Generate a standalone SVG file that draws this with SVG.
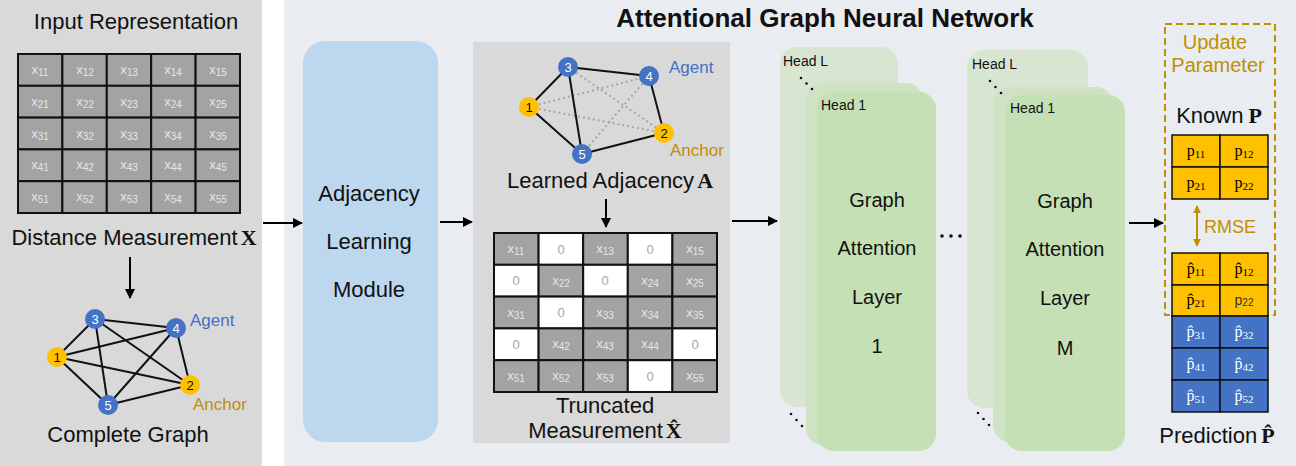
<svg xmlns="http://www.w3.org/2000/svg" width="1296" height="466" viewBox="0 0 1296 466">
  <defs>
    <marker id="arr" viewBox="0 0 10 10" refX="9" refY="5" markerWidth="5" markerHeight="5" orient="auto" markerUnits="strokeWidth">
      <path d="M0,0 L10,5 L0,10 z" fill="#000"/>
    </marker>
    <marker id="garr" viewBox="0 0 10 10" refX="9" refY="5" markerWidth="4" markerHeight="4" orient="auto-start-reverse" markerUnits="strokeWidth">
      <path d="M0,0 L10,5 L0,10 z" fill="#bf9000"/>
    </marker>
    <style>
      text { font-family: "Liberation Sans", Arial, sans-serif; }
      .lbl { font-size: 22px; fill: #111; }
      .serifb { font-family: "Liberation Serif", "DejaVu Serif", serif; font-weight: bold; }
      .cell { fill: #a3a3a3; stroke: #111; stroke-width: 2; }
      .zero { fill: #fff; stroke: #111; stroke-width: 2; }
      .ct { font-size: 13px; fill: #e6e6e6; text-anchor: middle; }
      .zt { font-size: 13px; fill: #a6a6a6; text-anchor: middle; }
      .edge { stroke: #111; stroke-width: 2; }
      .dot { stroke: #a6a6a6; stroke-width: 2; stroke-dasharray: 2 3; }
      .agent { fill: #4472c4; }
      .anchor { fill: #ffc000; }
      .nt { font-size: 13px; text-anchor: middle; }
      .head { font-size: 14px; fill: #111; }
      .gat { font-size: 20px; fill: #111; text-anchor: middle; }
      .pc { fill: #ffc000; stroke: #111; stroke-width: 1.5; }
      .pb { fill: #4472c4; stroke: #111; stroke-width: 1.5; }
      .pt { font-family: "Liberation Serif", "DejaVu Serif", serif; font-size: 16px; text-anchor: middle; }
      .conn { stroke: #000; stroke-width: 2; fill: none; marker-end: url(#arr); }
    </style>
  </defs>

  <!-- backgrounds -->
  <rect x="0" y="0" width="262" height="466" fill="#d9d9d9"/>
  <rect x="262" y="0" width="22" height="466" fill="#ffffff"/>
  <rect x="284" y="0" width="1012" height="466" fill="#e9ecf1"/>

  <!-- input representation panel -->
  <g id="input-matrix">
    <text class="lbl" x="136" y="29" text-anchor="middle" font-size="24">Input Representation</text>
    <g>
      <rect class="cell" x="18" y="54" width="44.4" height="31.8"/><rect class="cell" x="62.4" y="54" width="44.4" height="31.8"/><rect class="cell" x="106.8" y="54" width="44.4" height="31.8"/><rect class="cell" x="151.2" y="54" width="44.4" height="31.8"/><rect class="cell" x="195.6" y="54" width="44.4" height="31.8"/>
      <rect class="cell" x="18" y="85.8" width="44.4" height="31.8"/><rect class="cell" x="62.4" y="85.8" width="44.4" height="31.8"/><rect class="cell" x="106.8" y="85.8" width="44.4" height="31.8"/><rect class="cell" x="151.2" y="85.8" width="44.4" height="31.8"/><rect class="cell" x="195.6" y="85.8" width="44.4" height="31.8"/>
      <rect class="cell" x="18" y="117.6" width="44.4" height="31.8"/><rect class="cell" x="62.4" y="117.6" width="44.4" height="31.8"/><rect class="cell" x="106.8" y="117.6" width="44.4" height="31.8"/><rect class="cell" x="151.2" y="117.6" width="44.4" height="31.8"/><rect class="cell" x="195.6" y="117.6" width="44.4" height="31.8"/>
      <rect class="cell" x="18" y="149.4" width="44.4" height="31.8"/><rect class="cell" x="62.4" y="149.4" width="44.4" height="31.8"/><rect class="cell" x="106.8" y="149.4" width="44.4" height="31.8"/><rect class="cell" x="151.2" y="149.4" width="44.4" height="31.8"/><rect class="cell" x="195.6" y="149.4" width="44.4" height="31.8"/>
      <rect class="cell" x="18" y="181.2" width="44.4" height="31.8"/><rect class="cell" x="62.4" y="181.2" width="44.4" height="31.8"/><rect class="cell" x="106.8" y="181.2" width="44.4" height="31.8"/><rect class="cell" x="151.2" y="181.2" width="44.4" height="31.8"/><rect class="cell" x="195.6" y="181.2" width="44.4" height="31.8"/>
    </g>
    <g>
      <text class="ct" x="40" y="74">x<tspan font-size="10" dy="2">11</tspan></text>
      <text class="ct" x="85" y="74">x<tspan font-size="10" dy="2">12</tspan></text>
      <text class="ct" x="129" y="74">x<tspan font-size="10" dy="2">13</tspan></text>
      <text class="ct" x="173" y="74">x<tspan font-size="10" dy="2">14</tspan></text>
      <text class="ct" x="218" y="74">x<tspan font-size="10" dy="2">15</tspan></text>
      <text class="ct" x="40" y="106">x<tspan font-size="10" dy="2">21</tspan></text>
      <text class="ct" x="85" y="106">x<tspan font-size="10" dy="2">22</tspan></text>
      <text class="ct" x="129" y="106">x<tspan font-size="10" dy="2">23</tspan></text>
      <text class="ct" x="173" y="106">x<tspan font-size="10" dy="2">24</tspan></text>
      <text class="ct" x="218" y="106">x<tspan font-size="10" dy="2">25</tspan></text>
      <text class="ct" x="40" y="138">x<tspan font-size="10" dy="2">31</tspan></text>
      <text class="ct" x="85" y="138">x<tspan font-size="10" dy="2">32</tspan></text>
      <text class="ct" x="129" y="138">x<tspan font-size="10" dy="2">33</tspan></text>
      <text class="ct" x="173" y="138">x<tspan font-size="10" dy="2">34</tspan></text>
      <text class="ct" x="218" y="138">x<tspan font-size="10" dy="2">35</tspan></text>
      <text class="ct" x="40" y="169">x<tspan font-size="10" dy="2">41</tspan></text>
      <text class="ct" x="85" y="169">x<tspan font-size="10" dy="2">42</tspan></text>
      <text class="ct" x="129" y="169">x<tspan font-size="10" dy="2">43</tspan></text>
      <text class="ct" x="173" y="169">x<tspan font-size="10" dy="2">44</tspan></text>
      <text class="ct" x="218" y="169">x<tspan font-size="10" dy="2">45</tspan></text>
      <text class="ct" x="40" y="201">x<tspan font-size="10" dy="2">51</tspan></text>
      <text class="ct" x="85" y="201">x<tspan font-size="10" dy="2">52</tspan></text>
      <text class="ct" x="129" y="201">x<tspan font-size="10" dy="2">53</tspan></text>
      <text class="ct" x="173" y="201">x<tspan font-size="10" dy="2">54</tspan></text>
      <text class="ct" x="218" y="201">x<tspan font-size="10" dy="2">55</tspan></text>
    </g>
    <text class="lbl" x="134" y="245" text-anchor="middle">Distance Measurement<tspan class="serifb" dx="3">X</tspan></text>
  </g>

  <g id="complete-graph">
    <line class="edge" x1="57" y1="357" x2="95" y2="319"/>
    <line class="edge" x1="57" y1="357" x2="176" y2="328"/>
    <line class="edge" x1="57" y1="357" x2="190" y2="385"/>
    <line class="edge" x1="57" y1="357" x2="108" y2="405"/>
    <line class="edge" x1="95" y1="319" x2="176" y2="328"/>
    <line class="edge" x1="95" y1="319" x2="190" y2="385"/>
    <line class="edge" x1="95" y1="319" x2="108" y2="405"/>
    <line class="edge" x1="176" y1="328" x2="190" y2="385"/>
    <line class="edge" x1="176" y1="328" x2="108" y2="405"/>
    <line class="edge" x1="190" y1="385" x2="108" y2="405"/>
    <circle class="agent" cx="95" cy="319" r="10"/>
    <circle class="agent" cx="176" cy="328" r="10"/>
    <circle class="anchor" cx="57" cy="357" r="10"/>
    <circle class="anchor" cx="190" cy="385" r="10"/>
    <circle class="agent" cx="108" cy="405" r="10"/>
    <text class="nt" x="95" y="324" fill="#fff">3</text>
    <text class="nt" x="176" y="333" fill="#fff">4</text>
    <text class="nt" x="57" y="362" fill="#111">1</text>
    <text class="nt" x="190" y="390" fill="#111">2</text>
    <text class="nt" x="108" y="410" fill="#fff">5</text>
    <text x="190" y="326" font-size="17" fill="#4472c4">Agent</text>
    <text x="193" y="410" font-size="17" fill="#bf9000">Anchor</text>
    <text class="lbl" x="128" y="442" text-anchor="middle">Complete Graph</text>
  </g>

  <!-- title -->
  <text x="825" y="27" font-size="26" font-weight="bold" text-anchor="middle" fill="#111">Attentional Graph Neural Network</text>

  <!-- adjacency learning module -->
  <g id="adjacency-learning">
    <rect x="303" y="41" width="135" height="401" rx="22" fill="#bdd7ee"/>
    <text class="lbl" x="369" y="201" text-anchor="middle" font-size="19">Adjacency</text>
    <text class="lbl" x="369" y="249" text-anchor="middle" font-size="19">Learning</text>
    <text class="lbl" x="369" y="297" text-anchor="middle" font-size="19">Module</text>
  </g>

  <!-- learned adjacency and truncated measurement -->
  <g id="learned-panel">
    <rect x="473" y="42" width="257" height="401" fill="#d9d9d9"/>
  </g>
  <g id="learned-graph">
    <line class="dot" x1="529" y1="107" x2="649" y2="76"/>
    <line class="dot" x1="529" y1="107" x2="664" y2="133"/>
    <line class="dot" x1="568" y1="67" x2="664" y2="133"/>
    <line class="dot" x1="649" y1="76" x2="582" y2="154"/>
    <line class="edge" x1="529" y1="107" x2="568" y2="67"/>
    <line class="edge" x1="568" y1="67" x2="649" y2="76"/>
    <line class="edge" x1="649" y1="76" x2="664" y2="133"/>
    <line class="edge" x1="664" y1="133" x2="582" y2="154"/>
    <line class="edge" x1="582" y1="154" x2="529" y2="107"/>
    <line class="edge" x1="568" y1="67" x2="582" y2="154"/>
    <circle class="agent" cx="568" cy="67" r="10"/>
    <circle class="agent" cx="649" cy="76" r="10"/>
    <circle class="anchor" cx="529" cy="107" r="10"/>
    <circle class="anchor" cx="664" cy="133" r="10"/>
    <circle class="agent" cx="582" cy="154" r="10"/>
    <text class="nt" x="568" y="72" fill="#fff">3</text>
    <text class="nt" x="649" y="81" fill="#fff">4</text>
    <text class="nt" x="529" y="112" fill="#111">1</text>
    <text class="nt" x="664" y="138" fill="#111">2</text>
    <text class="nt" x="582" y="159" fill="#fff">5</text>
    <text x="669" y="73" font-size="17" fill="#4472c4">Agent</text>
    <text x="670" y="156" font-size="17" fill="#bf9000">Anchor</text>
    <text class="lbl" x="610" y="188" text-anchor="middle" font-size="23">Learned Adjacency<tspan class="serifb" dx="3">A</tspan></text>
  </g>

  <g id="truncated-matrix">
    <rect class="cell" x="494" y="233" width="44.6" height="31.8"/><rect class="zero" x="538.6" y="233" width="44.6" height="31.8"/><rect class="cell" x="583.2" y="233" width="44.6" height="31.8"/><rect class="zero" x="627.8" y="233" width="44.6" height="31.8"/><rect class="cell" x="672.4" y="233" width="44.6" height="31.8"/>
    <rect class="zero" x="494" y="264.8" width="44.6" height="31.8"/><rect class="cell" x="538.6" y="264.8" width="44.6" height="31.8"/><rect class="zero" x="583.2" y="264.8" width="44.6" height="31.8"/><rect class="cell" x="627.8" y="264.8" width="44.6" height="31.8"/><rect class="cell" x="672.4" y="264.8" width="44.6" height="31.8"/>
    <rect class="cell" x="494" y="296.6" width="44.6" height="31.8"/><rect class="zero" x="538.6" y="296.6" width="44.6" height="31.8"/><rect class="cell" x="583.2" y="296.6" width="44.6" height="31.8"/><rect class="cell" x="627.8" y="296.6" width="44.6" height="31.8"/><rect class="cell" x="672.4" y="296.6" width="44.6" height="31.8"/>
    <rect class="zero" x="494" y="328.4" width="44.6" height="31.8"/><rect class="cell" x="538.6" y="328.4" width="44.6" height="31.8"/><rect class="cell" x="583.2" y="328.4" width="44.6" height="31.8"/><rect class="cell" x="627.8" y="328.4" width="44.6" height="31.8"/><rect class="zero" x="672.4" y="328.4" width="44.6" height="31.8"/>
    <rect class="cell" x="494" y="360.2" width="44.6" height="31.8"/><rect class="cell" x="538.6" y="360.2" width="44.6" height="31.8"/><rect class="cell" x="583.2" y="360.2" width="44.6" height="31.8"/><rect class="zero" x="627.8" y="360.2" width="44.6" height="31.8"/><rect class="cell" x="672.4" y="360.2" width="44.6" height="31.8"/>

    <text class="ct" x="516" y="253">x<tspan font-size="10" dy="2">11</tspan></text>
    <text class="zt" x="561" y="254">0</text>
    <text class="ct" x="605" y="253">x<tspan font-size="10" dy="2">13</tspan></text>
    <text class="zt" x="650" y="254">0</text>
    <text class="ct" x="695" y="253">x<tspan font-size="10" dy="2">15</tspan></text>

    <text class="zt" x="516" y="285">0</text>
    <text class="ct" x="561" y="285">x<tspan font-size="10" dy="2">22</tspan></text>
    <text class="zt" x="605" y="285">0</text>
    <text class="ct" x="650" y="285">x<tspan font-size="10" dy="2">24</tspan></text>
    <text class="ct" x="695" y="285">x<tspan font-size="10" dy="2">25</tspan></text>

    <text class="ct" x="516" y="317">x<tspan font-size="10" dy="2">31</tspan></text>
    <text class="zt" x="561" y="317">0</text>
    <text class="ct" x="605" y="317">x<tspan font-size="10" dy="2">33</tspan></text>
    <text class="ct" x="650" y="317">x<tspan font-size="10" dy="2">34</tspan></text>
    <text class="ct" x="695" y="317">x<tspan font-size="10" dy="2">35</tspan></text>

    <text class="zt" x="516" y="349">0</text>
    <text class="ct" x="561" y="348">x<tspan font-size="10" dy="2">42</tspan></text>
    <text class="ct" x="605" y="348">x<tspan font-size="10" dy="2">43</tspan></text>
    <text class="ct" x="650" y="348">x<tspan font-size="10" dy="2">44</tspan></text>
    <text class="zt" x="695" y="349">0</text>

    <text class="ct" x="516" y="380">x<tspan font-size="10" dy="2">51</tspan></text>
    <text class="ct" x="561" y="380">x<tspan font-size="10" dy="2">52</tspan></text>
    <text class="ct" x="605" y="380">x<tspan font-size="10" dy="2">53</tspan></text>
    <text class="zt" x="650" y="381">0</text>
    <text class="ct" x="695" y="380">x<tspan font-size="10" dy="2">55</tspan></text>

    <text class="lbl" x="605" y="413" text-anchor="middle">Truncated</text>
    <text class="lbl" x="605" y="438" text-anchor="middle">Measurement<tspan class="serifb" dx="3">X̂</tspan></text>
  </g>

  <!-- graph attention layer 1 with stacked heads -->
  <g id="gat-layer-1">
    <rect x="780" y="47" width="118" height="360" rx="17" fill="#d8e6d1"/>
    <rect x="806" y="83" width="117" height="362" rx="17" fill="#cfe3c4"/>
    <rect x="817" y="92" width="119" height="359" rx="17" fill="#c5e0b4"/>
    <text class="head" x="783" y="66">Head  L</text>
    <text class="head" x="821" y="110">Head  1</text>
    <circle cx="801" cy="78" r="1.3" fill="#111"/><circle cx="806.5" cy="83.5" r="1.3" fill="#111"/><circle cx="812" cy="89" r="1.3" fill="#111"/>
    <circle cx="791" cy="414" r="1.3" fill="#111"/><circle cx="796.5" cy="420" r="1.3" fill="#111"/><circle cx="802" cy="426" r="1.3" fill="#111"/>
    <text class="gat" x="877" y="207">Graph</text>
    <text class="gat" x="877" y="255">Attention</text>
    <text class="gat" x="877" y="304">Layer</text>
    <text class="gat" x="877" y="353">1</text>
  </g>

  <g id="layer-ellipsis">
    <circle cx="942" cy="236" r="1.8" fill="#111"/>
    <circle cx="951" cy="236" r="1.8" fill="#111"/>
    <circle cx="960" cy="236" r="1.8" fill="#111"/>
  </g>

  <!-- graph attention layer M with stacked heads -->
  <g id="gat-layer-m">
    <rect x="967" y="50" width="121" height="358" rx="17" fill="#d8e6d1"/>
    <rect x="993" y="87" width="120" height="355" rx="17" fill="#cfe3c4"/>
    <rect x="1005" y="95" width="120" height="356" rx="17" fill="#c5e0b4"/>
    <text class="head" x="972" y="69">Head  L</text>
    <text class="head" x="1010" y="113">Head  1</text>
    <circle cx="990" cy="81" r="1.3" fill="#111"/><circle cx="995.5" cy="87" r="1.3" fill="#111"/><circle cx="1001" cy="93" r="1.3" fill="#111"/>
    <circle cx="978" cy="413" r="1.3" fill="#111"/><circle cx="983.5" cy="419" r="1.3" fill="#111"/><circle cx="989" cy="425" r="1.3" fill="#111"/>
    <text class="gat" x="1065" y="208">Graph</text>
    <text class="gat" x="1065" y="256">Attention</text>
    <text class="gat" x="1065" y="305">Layer</text>
    <text class="gat" x="1065" y="355">M</text>
  </g>

  <!-- output and loss -->
  <g id="update-parameter">
    <rect x="1165" y="24" width="110" height="291" fill="none" stroke="#bf9000" stroke-width="2" stroke-dasharray="7 4"/>
    <text x="1215" y="49" font-size="20" fill="#bf9000" text-anchor="middle">Update</text>
    <text x="1218" y="72" font-size="20" fill="#bf9000" text-anchor="middle">Parameter</text>
  </g>

  <g id="known-p">
    <text class="lbl" x="1219" y="123" text-anchor="middle">Known<tspan class="serifb" dx="5">P</tspan></text>
    <rect class="pc" x="1172" y="135" width="48" height="32"/><rect class="pc" x="1220" y="135" width="48" height="32"/>
    <rect class="pc" x="1172" y="167" width="48" height="32"/><rect class="pc" x="1220" y="167" width="48" height="32"/>
    <text class="pt" x="1196" y="156">p<tspan font-size="11" dy="2">11</tspan></text>
    <text class="pt" x="1244" y="156">p<tspan font-size="11" dy="2">12</tspan></text>
    <text class="pt" x="1196" y="188">p<tspan font-size="11" dy="2">21</tspan></text>
    <text class="pt" x="1244" y="188">p<tspan font-size="11" dy="2">22</tspan></text>
  </g>

  <g id="rmse">
    <line x1="1197" y1="206" x2="1197" y2="246" stroke="#bf9000" stroke-width="2" marker-start="url(#garr)" marker-end="url(#garr)"/>
    <text x="1204" y="233" font-size="18" fill="#bf9000">RMSE</text>
  </g>

  <g id="prediction-p">
    <rect class="pc" x="1172" y="253" width="48" height="32"/><rect class="pc" x="1220" y="253" width="48" height="32"/>
    <rect class="pc" x="1172" y="285" width="48" height="31"/><rect class="pc" x="1220" y="285" width="48" height="31"/>
    <rect class="pb" x="1172" y="316" width="48" height="32"/><rect class="pb" x="1220" y="316" width="48" height="32"/>
    <rect class="pb" x="1172" y="348" width="48" height="32"/><rect class="pb" x="1220" y="348" width="48" height="32"/>
    <rect class="pb" x="1172" y="380" width="48" height="32"/><rect class="pb" x="1220" y="380" width="48" height="32"/>
    <text class="pt" x="1196" y="274">p̂<tspan font-size="11" dy="2">11</tspan></text>
    <text class="pt" x="1244" y="274">p̂<tspan font-size="11" dy="2">12</tspan></text>
    <text class="pt" x="1196" y="305">p̂<tspan font-size="11" dy="2">21</tspan></text>
    <text x="1244" y="305" font-size="14" text-anchor="middle" fill="#333">p<tspan font-size="10" dy="1">22</tspan></text>
    <text class="pt" x="1196" y="337" fill="#fff">p̂<tspan font-size="11" dy="2">31</tspan></text>
    <text class="pt" x="1244" y="337" fill="#fff">p̂<tspan font-size="11" dy="2">32</tspan></text>
    <text class="pt" x="1196" y="369" fill="#fff">p̂<tspan font-size="11" dy="2">41</tspan></text>
    <text class="pt" x="1244" y="369" fill="#fff">p̂<tspan font-size="11" dy="2">42</tspan></text>
    <text class="pt" x="1196" y="401" fill="#fff">p̂<tspan font-size="11" dy="2">51</tspan></text>
    <text class="pt" x="1244" y="401" fill="#fff">p̂<tspan font-size="11" dy="2">52</tspan></text>
    <text class="lbl" x="1217" y="443" text-anchor="middle" font-size="22.5">Prediction<tspan class="serifb" dx="4">P̂</tspan></text>
  </g>

  <!-- connectors -->
  <g id="connectors">
    <line class="conn" x1="263" y1="223" x2="302" y2="223"/>
    <line class="conn" x1="130" y1="257" x2="130" y2="298"/>
    <line class="conn" x1="440" y1="222" x2="472" y2="222"/>
    <line class="conn" x1="606" y1="199" x2="606" y2="227"/>
    <line class="conn" x1="732" y1="221" x2="777" y2="221"/>
    <line class="conn" x1="1129" y1="223" x2="1163" y2="223"/>
  </g>
</svg>
